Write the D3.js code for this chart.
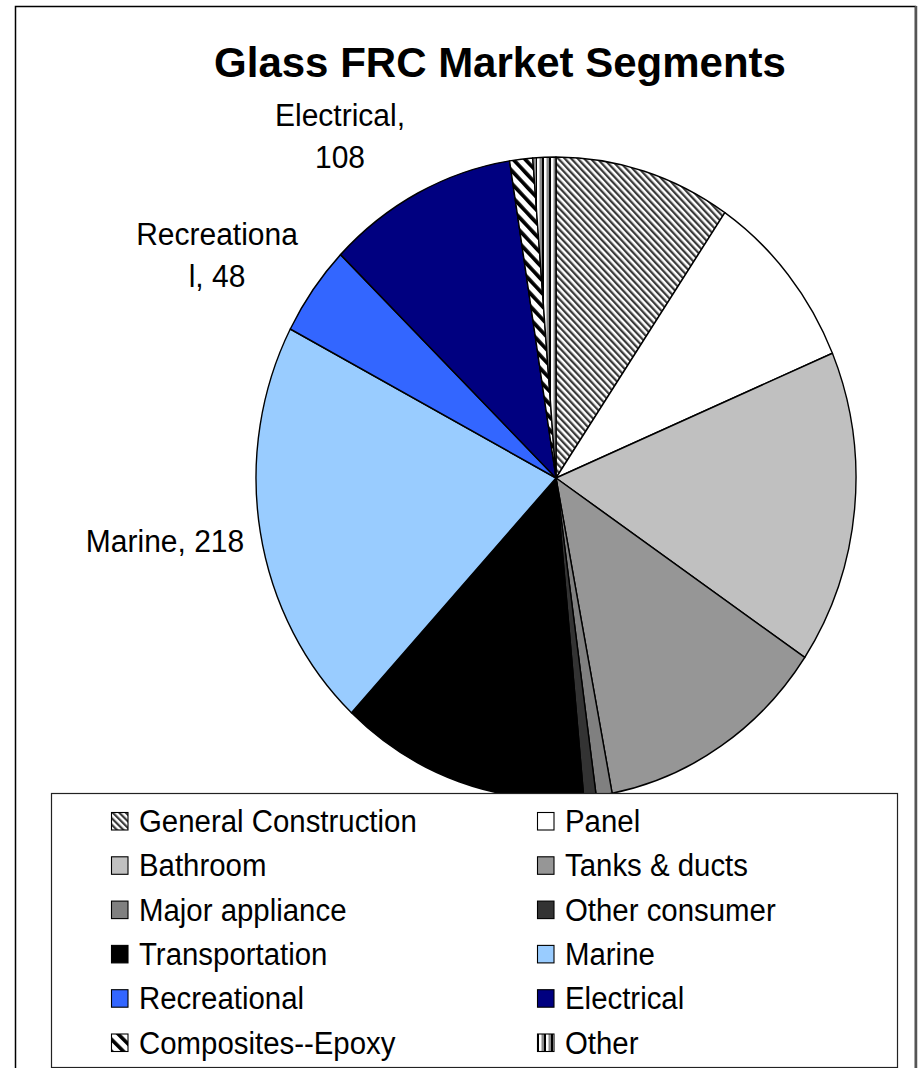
<!DOCTYPE html>
<html>
<head>
<meta charset="utf-8">
<script src="https://cdn.jsdelivr.net/npm/d3@7"></script>
<style>
  html, body { margin: 0; padding: 0; background: #fff; }
  svg { display: block; }
  text { font-family: "Liberation Sans", Arial, sans-serif; fill: #000; }
</style>
</head>
<body>
<svg id="chart" width="921" height="1068"></svg>
<script>
// Glass FRC market segments (clockwise from 12 o'clock)
const categories = [
  "General Construction", "Panel", "Bathroom", "Tanks & ducts",
  "Major appliance", "Other consumer", "Transportation", "Marine",
  "Recreational", "Electrical", "Composites--Epoxy", "Other"
];
const values = [100, 96, 166, 132, 9, 7, 141, 218, 48, 108, 13, 13];

// Fills: plain colours or pattern ids
const fills = [
  "url(#pat-gc)", "#FFFFFF", "#C0C0C0", "#969696",
  "#808080", "#333333", "#000000", "#99CCFF",
  "#3366FF", "#000080", "url(#pat-epoxy)", "url(#pat-other)"
];

// Segments that carry a data label on the chart
const labelledCategories = ["Electrical", "Recreational", "Marine"];

const title = "Glass FRC Market Segments";

const svg = d3.select("#chart");
const W = 921, H = 1068;

// ---------- patterns ----------
const defs = svg.append("defs");

function stripePattern(id, period, stripes, rotate) {
  const p = defs.append("pattern")
    .attr("id", id)
    .attr("patternUnits", "userSpaceOnUse")
    .attr("width", period)
    .attr("height", period);
  if (rotate) p.attr("patternTransform", `rotate(${rotate})`);
  p.append("rect").attr("width", period).attr("height", period).attr("fill", "#fff");
  stripes.forEach(s => {
    p.append("rect")
      .attr("x", s.x).attr("y", 0)
      .attr("width", s.w).attr("height", period)
      .attr("fill", s.c);
  });
}
// fine grey back-diagonal hatch
stripePattern("pat-gc", 4.6, [{ x: 0, w: 2.2, c: "#3a3a3a" }], -45);
// wide black back-diagonal hatch
stripePattern("pat-epoxy", 8.5, [{ x: 0, w: 3.6, c: "#000" }], -45);
// vertical black / white / grey stripes
stripePattern("pat-other", 7, [{ x: 0, w: 2, c: "#000" }, { x: 4.5, w: 2.5, c: "#8a8a8a" }], 0);

// ---------- frame ----------
svg.append("rect")
  .attr("x", 15.5).attr("y", 6.5)
  .attr("width", 900).attr("height", 1100)
  .attr("fill", "#fff")
  .attr("stroke", "#000").attr("stroke-width", 1.5);
svg.append("line")
  .attr("x1", 916).attr("x2", 916).attr("y1", 6).attr("y2", H)
  .attr("stroke", "#555").attr("stroke-width", 2.5);

// ---------- title ----------
svg.append("text")
  .attr("x", 500).attr("y", 77)
  .attr("text-anchor", "middle")
  .attr("font-size", 42)
  .attr("font-weight", "bold")
  .text(title);

// ---------- pie ----------
const data = categories.map((c, i) => ({ name: c, value: values[i], fill: fills[i] }));
const cx = 556, cy = 478, R = 300, yStretch = 1.07;

const pie = d3.pie().value(d => d.value).sort(null);
const arc = d3.arc().innerRadius(0).outerRadius(R);

const pieG = svg.append("g")
  .attr("transform", `translate(${cx},${cy}) scale(1,${yStretch})`);

pieG.selectAll("path")
  .data(pie(data))
  .join("path")
  .attr("d", arc)
  .attr("fill", d => d.data.fill)
  .attr("stroke", "#000")
  .attr("stroke-width", 1.4)
  .attr("stroke-linejoin", "round");

// ---------- data labels ----------
// label anchor points (centre x, first baseline y)
const labelLayout = {
  "Electrical":   { x: 340, y: 126 },
  "Recreational": { x: 217, y: 245 },
  "Marine":       { x: 165, y: 552 }
};
const lineGap = 42;
const wrapChars = 11;

function wrapLabel(s) {
  const lines = [];
  let rest = s;
  while (rest.length > wrapChars) {
    lines.push(rest.slice(0, wrapChars).trim());
    rest = rest.slice(wrapChars).trim();
  }
  if (rest.length) lines.push(rest);
  return lines;
}

labelledCategories.forEach(name => {
  const d = data.find(e => e.name === name);
  const pos = labelLayout[name];
  const lines = wrapLabel(`${d.name}, ${d.value}`);
  lines.forEach((ln, k) => {
    svg.append("text")
      .attr("transform", `translate(${pos.x},${pos.y + k * lineGap}) scale(1,${yStretch})`)
      .attr("text-anchor", "middle")
      .attr("font-size", 30)
      .text(ln);
  });
});

// ---------- legend ----------
const legX = 51, legY = 793, legW = 846, legH = 274;
svg.append("rect")
  .attr("x", legX + 0.5).attr("y", legY + 0.5)
  .attr("width", legW).attr("height", legH)
  .attr("fill", "#fff")
  .attr("stroke", "#222").attr("stroke-width", 1.2);

const colX = [111, 537];
const rowBase0 = 832, rowGap = 44.3;
const legendItems = svg.append("g").selectAll("g")
  .data(data)
  .join("g")
  .attr("transform", (d, i) => {
    const col = i % 2, row = Math.floor(i / 2);
    return `translate(${colX[col]},${rowBase0 + row * rowGap})`;
  });

legendItems.append("rect")
  .attr("x", 0.5).attr("y", -19.5)
  .attr("width", 16.5).attr("height", 17.5)
  .attr("fill", d => d.fill)
  .attr("stroke", "#000").attr("stroke-width", 1.1);

legendItems.append("text")
  .attr("transform", `translate(28,0) scale(1,${yStretch})`)
  .attr("font-size", 29.4)
  .text(d => d.name);
</script>
</body>
</html>
